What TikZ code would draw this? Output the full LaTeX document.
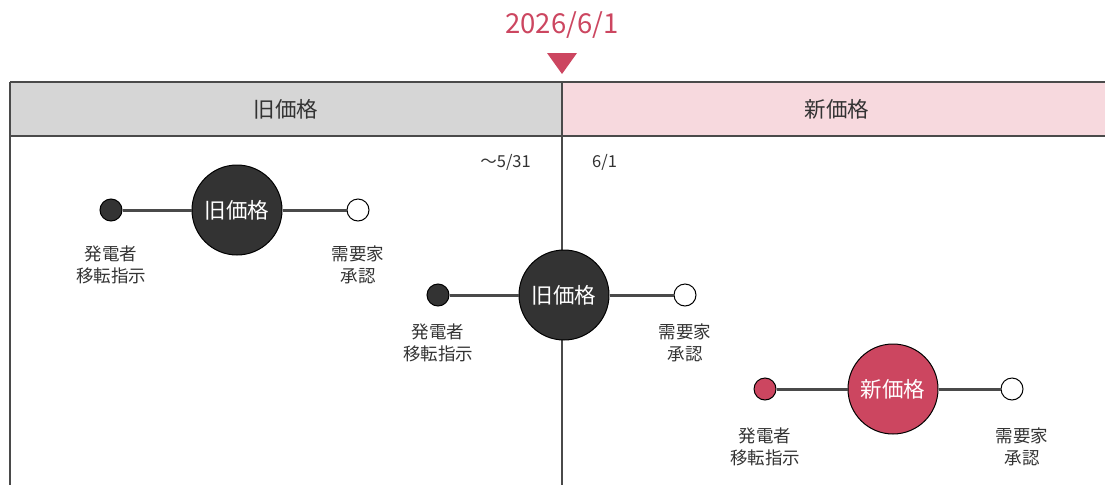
\documentclass[tikz,border=0pt]{standalone}
\usepackage{fontspec}
\setmainfont{Noto Sans CJK JP}
\definecolor{dk}{HTML}{333333}
\definecolor{ln}{HTML}{4A4A4A}
\definecolor{rd}{HTML}{CC4660}
\definecolor{gr}{HTML}{D6D6D6}
\definecolor{pk}{HTML}{F7D9DE}
\definecolor{tx}{HTML}{333333}
\tikzset{
  big/.style={circle, draw=black, line width=1pt, minimum size=90pt, inner sep=0pt, text=white, font=\fontsize{21.5}{24}\selectfont},
  dotf/.style={circle, draw=black, line width=1pt, minimum size=22pt, inner sep=0pt},
  lbl/.style={align=center, text=tx, font=\fontsize{17.5}{22.5}\selectfont, inner sep=0pt},
  bar/.style={draw=ln, line width=3pt},
  hdr/.style={text=tx, font=\fontsize{21.5}{24}\selectfont},
  small/.style={text=tx, font=\fontsize{16.5}{18}\selectfont, inner sep=0pt}
}
\begin{document}
\begin{tikzpicture}[x=1pt,y=-1pt]
\useasboundingbox (0,0) rectangle (1105,485);
% header
\fill[gr] (10,82) rectangle (562,136);
\fill[pk] (562,82) rectangle (1106,136);
\draw[ln, line width=1.2pt] (10,82) -- (1106,82);
\draw[ln, line width=1.6pt] (10,136) -- (1106,136);
\draw[ln, line width=1.2pt] (10,82) -- (10,485);
\draw[ln, line width=1.2pt] (562,82) -- (562,485);
\node[hdr] (hold) at (286,109) {旧価格};
\node[hdr] (hnew) at (837,109) {新価格};
% date
\node[text=rd, font=\fontsize{27.5}{30}\selectfont] (date) at (562,25) {2026/6/1};
\fill[rd] (547,53) -- (577,53) -- (562,74) -- cycle;
\node[small, anchor=east] (before) at (531,162) {〜5/31};
\node[small, anchor=west] (after) at (592,162) {6/1};
% timeline 1
\node[dotf, fill=dk] (a1) at (111,210) {};
\node[dotf, fill=white] (c1) at (358,210) {};
\node[big, fill=dk] (b1) at (237,210) {旧価格};
\draw[bar] (a1) -- (b1);
\draw[bar] (b1) -- (c1);
\node[lbl] (la1) at (111,265) {発電者\\移転指示};
\node[lbl] (lc1) at (358,265) {需要家\\承認};
% timeline 2
\node[dotf, fill=dk] (a2) at (438,295) {};
\node[dotf, fill=white] (c2) at (685,295) {};
\node[big, fill=dk] (b2) at (564,295) {旧価格};
\draw[bar] (a2) -- (b2);
\draw[bar] (b2) -- (c2);
\node[lbl] (la2) at (438,343) {発電者\\移転指示};
\node[lbl] (lc2) at (685,343) {需要家\\承認};
% timeline 3
\node[dotf, fill=rd] (a3) at (765,389) {};
\node[dotf, fill=white] (c3) at (1012,389) {};
\node[big, fill=rd] (b3) at (893,389) {新価格};
\draw[bar] (a3) -- (b3);
\draw[bar] (b3) -- (c3);
\node[lbl] (la3) at (765,447) {発電者\\移転指示};
\node[lbl] (lc3) at (1022,447) {需要家\\承認};
\end{tikzpicture}
\end{document}
